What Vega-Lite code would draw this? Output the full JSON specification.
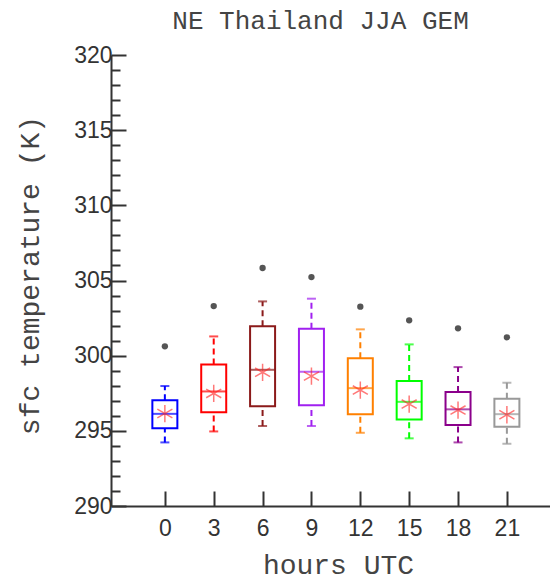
{
  "$schema": "https://vega.github.io/schema/vega-lite/v6.json",
  "autosize": "none",
  "width": 439,
  "height": 451,
  "padding": {"left": 111, "top": 55, "right": 0, "bottom": 75},
  "background": "white",
  "title": {
    "text": "NE Thailand JJA GEM",
    "font": "Liberation Mono",
    "fontSize": 26,
    "fontWeight": "normal",
    "color": "#444444",
    "baseline": "alphabetic",
    "frame": "group",
    "offset": 27,
    "dx": -10,
    "dy": 38
  },
  "config": {
    "view": {"stroke": null},
    "axis": {"grid": false, "domainColor": "#333333", "domainWidth": 2, "tickColor": "#333333", "tickWidth": 2, "labelOverlap": false}
  },
  "resolve": {"axis": {"y": "independent"}},
  "data": {
    "values": [
      {"hour": 0, "lo": 294.23, "q1": 295.18, "med": 296.13, "q3": 297.03, "hi": 297.98, "out": 300.62, "mean": 296.15},
      {"hour": 3, "lo": 294.96, "q1": 296.23, "med": 297.62, "q3": 299.42, "hi": 301.28, "out": 303.3, "mean": 297.49},
      {"hour": 6, "lo": 295.32, "q1": 296.63, "med": 299.06, "q3": 301.95, "hi": 303.61, "out": 305.83, "mean": 298.89},
      {"hour": 9, "lo": 295.32, "q1": 296.71, "med": 298.93, "q3": 301.79, "hi": 303.79, "out": 305.23, "mean": 298.64},
      {"hour": 12, "lo": 294.87, "q1": 296.11, "med": 297.84, "q3": 299.82, "hi": 301.75, "out": 303.26, "mean": 297.71},
      {"hour": 15, "lo": 294.5, "q1": 295.76, "med": 296.93, "q3": 298.31, "hi": 300.75, "out": 302.35, "mean": 296.78},
      {"hour": 18, "lo": 294.23, "q1": 295.38, "med": 296.43, "q3": 297.58, "hi": 299.24, "out": 301.82, "mean": 296.38},
      {"hour": 21, "lo": 294.14, "q1": 295.27, "med": 296.11, "q3": 297.13, "hi": 298.2, "out": 301.22, "mean": 296.07}
    ]
  },
  "encoding": {
    "x": {
      "field": "hour", "type": "quantitative",
      "scale": {"domain": [-3, 23.34], "nice": false, "zero": false},
      "axis": {
        "values": [0, 3, 6, 9, 12, 15, 18, 21],
        "tickSize": -15,
        "labelPadding": 26,
        "labelFont": "Liberation Sans",
        "labelFontSize": 23,
        "labelColor": "#333333",
        "labelBaseline": "top",
        "title": "hours UTC",
        "titleFont": "Liberation Mono",
        "titleFontSize": 28,
        "titleFontWeight": "normal",
        "titleColor": "#444444",
        "titleX": 227,
        "titleY": 67,
        "titleAlign": "center",
        "titleBaseline": "alphabetic"
      }
    },
    "color": {
      "field": "hour", "type": "nominal",
      "scale": {
        "domain": [0, 3, 6, 9, 12, 15, 18, 21],
        "range": ["#0000ff", "#ff0000", "#8b1a1a", "#a020f0", "#ff8000", "#00ff00", "#8b008b", "#999999"]
      },
      "legend": null
    }
  },
  "layer": [
    {
      "mark": {"type": "rule", "strokeWidth": 2, "strokeDash": [6, 4]},
      "encoding": {
        "y": {
          "field": "lo", "type": "quantitative",
          "scale": {"domain": [290, 320], "nice": false, "zero": false},
          "axis": {
            "orient": "left",
            "values": [290, 295, 300, 305, 310, 315, 320],
            "tickSize": -15,
            "labelPadding": 14,
            "labelFont": "Liberation Sans",
            "labelFontSize": 23,
            "labelColor": "#333333",
            "title": "sfc temperature (K)",
            "titleFont": "Liberation Mono",
            "titleFontSize": 28,
            "titleFontWeight": "normal",
            "titleColor": "#444444",
            "titleX": -81,
            "titleY": 220,
            "titleAngle": -90,
            "titleAlign": "center",
            "titleBaseline": "middle"
          }
        },
        "y2": {"field": "q1"}
      }
    },
    {
      "mark": {"type": "rule", "strokeWidth": 2, "strokeDash": [6, 4]},
      "encoding": {
        "y": {
          "field": "q3", "type": "quantitative",
          "axis": {
            "orient": "left",
            "values": [291,292,293,294,296,297,298,299,301,302,303,304,306,307,308,309,311,312,313,314,316,317,318,319],
            "tickSize": -9,
            "labels": false,
            "domain": false,
            "title": null
          }
        },
        "y2": {"field": "hi"}
      }
    },
    {
      "mark": {"type": "tick", "orient": "horizontal", "size": 9, "thickness": 2},
      "encoding": {"y": {"field": "lo", "type": "quantitative", "axis": null}}
    },
    {
      "mark": {"type": "tick", "orient": "horizontal", "size": 9, "thickness": 2},
      "encoding": {"y": {"field": "hi", "type": "quantitative", "axis": null}}
    },
    {
      "mark": {"type": "bar", "width": 25, "fill": "white", "fillOpacity": 0, "strokeWidth": 2},
      "encoding": {
        "y": {"field": "q1", "type": "quantitative", "axis": null},
        "y2": {"field": "q3"},
        "stroke": {"field": "hour", "type": "nominal", "scale": {"domain": [0, 3, 6, 9, 12, 15, 18, 21], "range": ["#0000ff", "#ff0000", "#8b1a1a", "#a020f0", "#ff8000", "#00ff00", "#8b008b", "#999999"]}, "legend": null}
      }
    },
    {
      "mark": {"type": "tick", "orient": "horizontal", "size": 25, "thickness": 2},
      "encoding": {"y": {"field": "med", "type": "quantitative", "axis": null}}
    },
    {
      "mark": {"type": "point", "shape": "M0,-1L0,1M-0.87,-0.5L0.87,0.5M-0.87,0.5L0.87,-0.5", "size": 300, "filled": false, "strokeWidth": 1.5, "opacity": 0.6},
      "encoding": {"y": {"field": "mean", "type": "quantitative", "axis": null}, "color": {"value": "#ff2020"}}
    },
    {
      "mark": {"type": "circle", "size": 40, "opacity": 1},
      "encoding": {"y": {"field": "out", "type": "quantitative", "axis": null}, "color": {"value": "#555555"}}
    }
  ]
}
